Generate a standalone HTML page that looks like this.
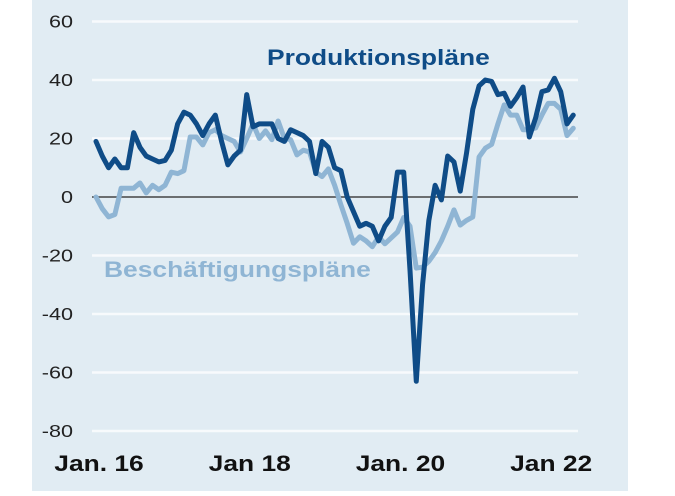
<!DOCTYPE html>
<html><head><meta charset="utf-8"><style>
html,body{margin:0;padding:0;background:#fff;}
body{width:675px;height:491px;position:relative;overflow:hidden;font-family:"Liberation Sans",Arial,sans-serif;}
</style></head><body>
<svg id="chart" width="675" height="491" xmlns="http://www.w3.org/2000/svg" font-family="Liberation Sans, Arial, sans-serif">
<rect x="32" y="0" width="596" height="491" fill="#e1ecf3"/>
<g id="grid"></g><g id="ylab"></g><g id="xlab"></g><g id="series"></g>
<text transform="translate(267,65) scale(1.2,1)" x="0" y="0" font-size="22" font-weight="bold" fill="#0f4c87">Produktionspläne</text>
<text transform="translate(104,277) scale(1.2,1)" x="0" y="0" font-size="22" font-weight="bold" fill="#8fb5d4">Beschäftigungspläne</text>
</svg>
<script>
const yTicks=[60,40,20,0,-20,-40,-60,-80];
const xTickLabels=["Jan. 16","Jan 18","Jan. 20","Jan 22"];
const xTickMonths=[0,24,48,72];
const produktion=[19,14,10,13,10,10,22,17,14,13,12,12.5,16,25,29,28,25,21,25,28,19,11,14,16,35,24,25,25,25,20,19,23,22,21,19,8,19,17,10,9,0,-5,-10,-9,-10,-15,-10,-7,8.5,8.5,-25,-63,-30,-8,4,-1,14,12,2,15,30,38,40,39.5,35,35.5,31,34,37.6,20.5,27,36,36.6,40.6,36,25,28];
const beschaeftigung=[0,-4,-6.8,-6,3,3,3,4.8,1.4,4,2.5,4,8.5,8,9,20.5,20.5,17.8,22,23,21,20,19,15.4,20,25,20,22.6,19.6,26,20,19.6,14.4,16,15.4,8.5,7,9.6,4,-2.7,-9,-15.8,-13.6,-15,-17,-13.6,-16,-14,-12,-7,-10,-24.3,-24,-22,-19,-15,-10,-4.4,-9.6,-8,-6.8,13.7,16.7,18,25,31.5,28,28,23,23,23.6,28,32,32,30,21,23.5];
const NS="http://www.w3.org/2000/svg";
const y=v=>197-v*2.925;
const x=i=>96+i*6.28;
function mk(t,a,p){const e=document.createElementNS(NS,t);for(const k in a)e.setAttribute(k,a[k]);p.appendChild(e);return e;}
const grid=document.getElementById('grid'),yl=document.getElementById('ylab'),xl=document.getElementById('xlab'),ser=document.getElementById('series');
yTicks.forEach(v=>{
 const l=mk('line',{x1:92,x2:578,y1:y(v),y2:y(v),stroke:v===0?'#444':'#f7fafc','stroke-width':v===0?1.5:2.5},grid);
 
 
 const t=mk('text',{x:0,y:0,transform:'translate(73,'+(y(v)+6)+') scale(1.2,1)','font-size':18,'text-anchor':'end',fill:'#222'},yl);
 
 
 t.textContent=v;
});
xTickLabels.forEach((s,k)=>{
 const t=mk('text',{x:0,y:0,transform:'translate('+(x(xTickMonths[k])+3)+',471) scale(1.2,1)','font-size':22,'font-weight':'bold','text-anchor':'middle',fill:'#111'},xl);
 
 
 t.textContent=s;
});
function line(arr,col,name){
 const p=mk('polyline',{points:arr.map((v,i)=>x(i)+','+y(v)).join(' '),fill:'none',stroke:col,'stroke-width':5,'stroke-linejoin':'round','stroke-linecap':'round'},ser);
 
 
}
line(beschaeftigung,'#8fb5d4','beschaeftigung-line');
line(produktion,'#0f4c87','produktion-line');
</script>
</body></html>
